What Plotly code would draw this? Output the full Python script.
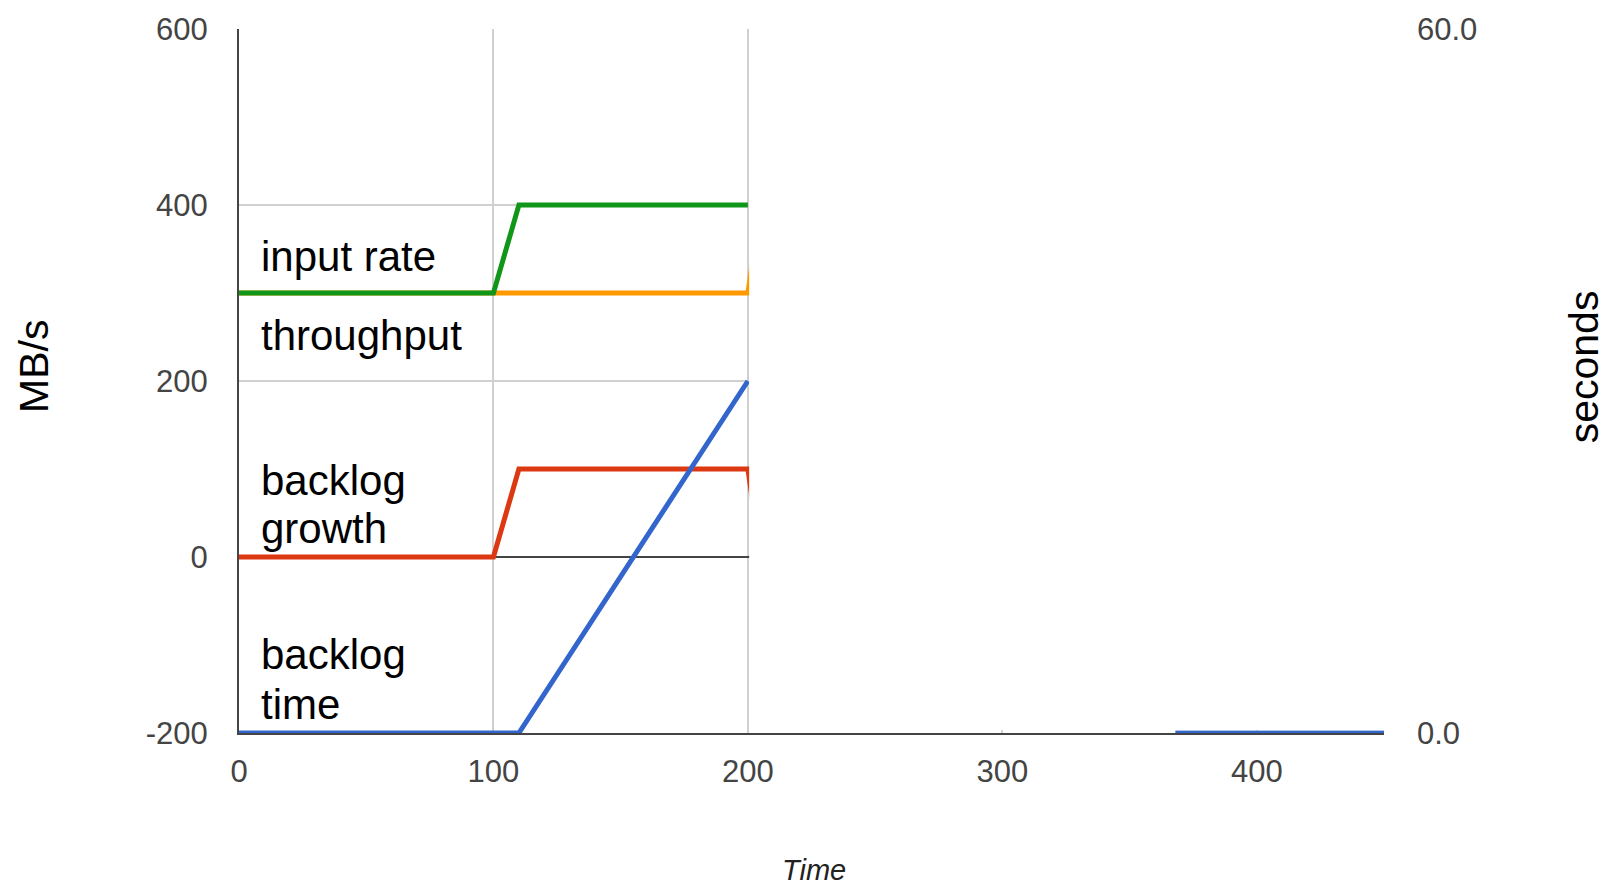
import plotly.graph_objects as go

# ---- data ----
time_input = [0, 100, 110, 200]
input_rate = [300, 300, 400, 400]            # MB/s

time_throughput = [0, 100, 200, 210]
throughput = [300, 300, 300, 500]            # MB/s

time_growth = [0, 100, 110, 200, 210]
backlog_growth = [0, 0, 100, 100, -100]      # MB/s

time_backlog = [0, 110, 200, None, 368, 450]
backlog_time = [0, 0, 30, None, 0, 0]        # seconds (right axis)

left_ticks = [-200, 0, 200, 400, 600]
left_labels = ["-200", "0", "200", "400", "600"]
right_ticks = [0, 60]
right_labels = ["0.0", "60.0"]
x_ticks = [0, 100, 200, 300, 400]

series_labels = [
    ("input rate", 342),
    ("throughput", 252),
    ("backlog", 87),
    ("growth", 32),
    ("backlog", -111),
    ("time", -168),
]

GREEN = "#109618"
ORANGE = "#FF9900"
RED = "#DC3912"
BLUE = "#3366CC"
FONT = "Liberation Sans, Arial, sans-serif"

fig = go.Figure()
fig.add_trace(go.Scatter(x=time_throughput, y=throughput, mode="lines",
                         line=dict(color=ORANGE, width=5), name="throughput"))
fig.add_trace(go.Scatter(x=time_input, y=input_rate, mode="lines",
                         line=dict(color=GREEN, width=5), name="input rate"))
fig.add_trace(go.Scatter(x=time_growth, y=backlog_growth, mode="lines",
                         line=dict(color=RED, width=5), name="backlog growth"))
fig.add_trace(go.Scatter(x=time_backlog, y=backlog_time, mode="lines",
                         line=dict(color=BLUE, width=5), name="backlog time",
                         yaxis="y2", connectgaps=False))

annotations = []
for text, yv in series_labels:
    annotations.append(dict(x=8, y=yv, xref="x", yref="y", text=text,
                            showarrow=False, xanchor="left", yanchor="middle",
                            font=dict(family=FONT, size=42, color="#000000")))
annotations += [
    dict(x=-0.179, y=0.52, xref="paper", yref="paper", text="MB/s", textangle=-90,
         showarrow=False, xanchor="center", yanchor="middle",
         font=dict(family=FONT, size=41, color="#000000")),
    dict(x=1.175, y=0.52, xref="paper", yref="paper", text="seconds", textangle=-90,
         showarrow=False, xanchor="center", yanchor="middle",
         font=dict(family=FONT, size=41, color="#000000")),
    dict(x=0.502, y=-0.194, xref="paper", yref="paper", text="<i>Time</i>",
         showarrow=False, xanchor="center", yanchor="middle",
         font=dict(family=FONT, size=29, color="#222222")),
]

fig.update_layout(
    width=1606, height=885,
    margin=dict(l=239, r=222, t=21, b=152, pad=0),
    paper_bgcolor="white", plot_bgcolor="white",
    showlegend=False,
    font=dict(family=FONT),
    xaxis=dict(range=[0, 450], tickvals=x_ticks, showgrid=True, gridcolor="#d0d0d0",
               gridwidth=2, zeroline=False, showline=True, linecolor="#444444",
               linewidth=2, ticks="", ticklabelstandoff=10,
               tickfont=dict(family=FONT, size=31, color="#444444")),
    yaxis=dict(range=[-200, 600], tickvals=left_ticks, ticktext=left_labels,
               showgrid=True, gridcolor="#d0d0d0", gridwidth=2,
               zeroline=True, zerolinecolor="#444444", zerolinewidth=2,
               showline=True, linecolor="#444444", linewidth=2, ticks="",
               ticklabelstandoff=23,
               tickfont=dict(family=FONT, size=31, color="#444444")),
    yaxis2=dict(range=[0, 60], overlaying="y", side="right", tickvals=right_ticks,
                ticktext=right_labels, showgrid=False, zeroline=False, showline=False,
                ticks="", ticklabelstandoff=32,
                tickfont=dict(family=FONT, size=31, color="#444444")),
    annotations=annotations,
    shapes=[dict(type="rect", xref="x", yref="paper", x0=200.5, x1=450,
                 y0=0.004, y1=1.02, fillcolor="white", line=dict(width=0),
                 layer="above")],
)

fig.write_html("out.html", config={"displayModeBar": False},
               post_script="document.body.style.margin='0';document.body.style.overflow='hidden';")
